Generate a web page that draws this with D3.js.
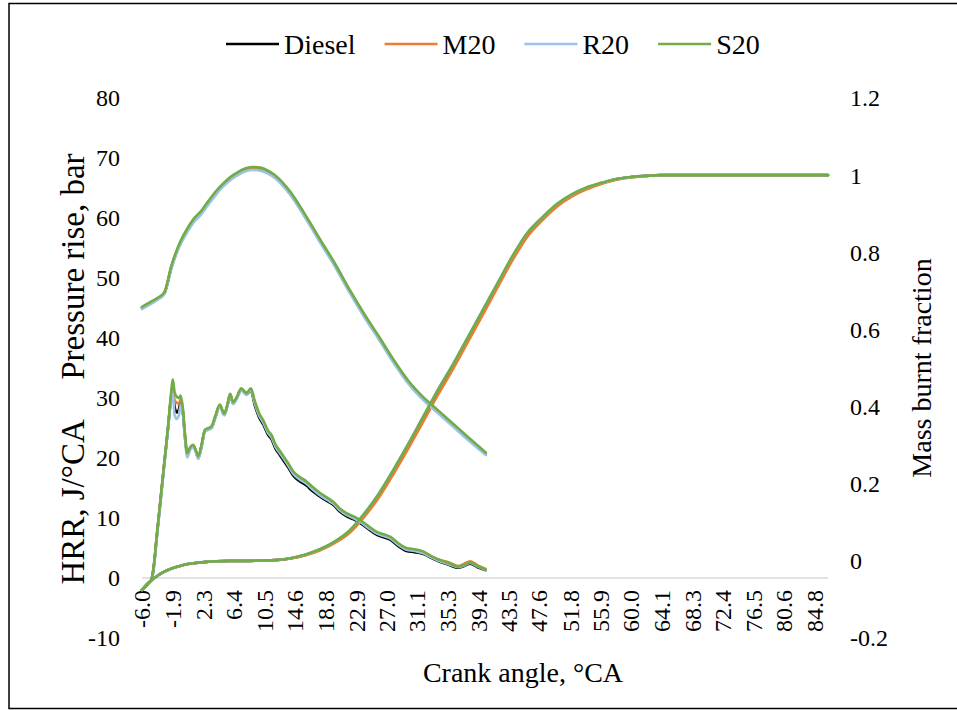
<!DOCTYPE html>
<html>
<head>
<meta charset="utf-8">
<script src="https://cdn.jsdelivr.net/npm/d3@7"></script>
<style>
  body { margin: 0; background: #fff; }
  svg text { font-family: 'Liberation Serif', 'Times New Roman', Tinos, 'DejaVu Serif', serif; fill: #000; }
</style>
</head>
<body>
<div id="chart"></div>
<script>
const fuels = ["Diesel", "M20", "R20", "S20"];
const fuelColors = ["#000000", "#ED7D31", "#9DC3E6", "#70AD47"];

const xTickLabels = ["-6.0", "-1.9", "2.3", "6.4", "10.5", "14.6", "18.8", "22.9", "27.0", "31.1", "35.3",
    "39.4", "43.5", "47.6", "51.8", "55.9", "60.0", "64.1", "68.3", "72.4", "76.5", "80.6", "84.8"];
const leftTicks = [80, 70, 60, 50, 40, 30, 20, 10, 0, -10];
const rightTicks = [1.2, 1, 0.8, 0.6, 0.4, 0.2, 0, -0.2];

// pressure rise, bar
const pressureAngle = [-6, -5, -4, -3, -2, -1, 0, 1, 2, 3, 4, 5, 6, 7, 8, 9, 10, 11, 12, 14, 16, 18, 20, 22, 24,
    26, 28, 30, 32, 34, 36, 38, 40.4];
const pressureDiesel = [45.0, 45.7, 46.5, 47.4, 51.9, 55.3, 57.6, 59.5, 60.9, 62.5, 64.1, 65.5, 66.6, 67.4, 68.0,
    68.2, 68.1, 67.6, 66.8, 64.1, 60.3, 56.2, 52.2, 47.8, 43.7, 39.9, 36.0, 32.5, 29.8, 27.6, 25.4, 23.2, 20.7];
const pressureM20 = [45.1, 45.8, 46.5, 47.5, 52.0, 55.4, 57.8, 59.7, 61.0, 62.7, 64.3, 65.6, 66.7, 67.5, 68.1,
    68.4, 68.3, 67.8, 67.0, 64.3, 60.5, 56.4, 52.4, 48.0, 43.9, 40.1, 36.2, 32.7, 30.0, 27.8, 25.6, 23.4, 20.8];
const pressureR20 = [44.8, 45.5, 46.3, 47.3, 51.7, 55.1, 57.4, 59.3, 60.6, 62.3, 63.9, 65.3, 66.4, 67.2, 67.8,
    68.0, 67.9, 67.4, 66.6, 63.9, 60.1, 56.0, 52.0, 47.6, 43.5, 39.7, 35.8, 32.3, 29.6, 27.4, 25.2, 23.0, 20.5];
const pressureS20 = [45.2, 45.9, 46.6, 47.6, 52.2, 55.6, 58.0, 59.9, 61.2, 62.9, 64.5, 65.8, 66.9, 67.7, 68.3,
    68.5, 68.4, 67.9, 67.1, 64.4, 60.6, 56.5, 52.5, 48.1, 44.0, 40.2, 36.3, 32.8, 30.1, 27.9, 25.7, 23.5, 20.9];

// heat release rate, J/°CA
const hrrAngle = [-6.0, -5.5, -5.0, -4.7, -4.4, -4.0, -3.5, -3.0, -2.5, -2.1,
    -1.85, -1.6, -1.3, -1.0, -0.8, -0.5, -0.2, 0.1, 0.5, 0.9,
    1.3, 1.6, 2.0, 2.5, 3.0, 3.4, 3.9, 4.5, 5.1, 5.5,
    5.9, 6.3, 6.8, 7.4, 8.1, 8.7, 9.2, 9.8, 10.4, 11.0,
    11.5, 12.0, 12.6, 13.1, 13.7, 14.4, 15.2, 16.2, 17.0, 18.0,
    19.0, 19.8, 20.7, 21.6, 22.5, 23.4, 24.5, 25.7, 26.6, 27.5,
    28.6, 29.7, 30.8, 32.0, 33.1, 34.2, 35.4, 36.7, 37.5, 38.3,
    39.3, 40.4];
const hrrDiesel = [-2.0, -1.4, -0.7, -0.2, 2.0, 7.0, 13.0, 19.0, 24.8, 29.8,
    31.4, 28.5, 27.6, 28.2, 29.2, 27.8, 23.6, 20.6, 21.6, 22.0,
    21.0, 20.1, 21.8, 24.5, 24.8, 25.1, 26.8, 28.7, 27.2, 28.6,
    30.5, 29.1, 30.0, 31.4, 30.6, 31.2, 28.9, 26.8, 25.5, 23.9,
    23.1, 21.6, 20.5, 19.6, 18.5, 17.1, 16.2, 15.4, 14.5, 13.6,
    12.8, 12.2, 11.1, 10.3, 9.8, 9.2, 8.2, 7.2, 6.8, 6.4,
    5.3, 4.5, 4.3, 4.0, 3.3, 2.7, 2.2, 1.7, 2.0, 2.4,
    1.8, 1.3];
const hrrM20 = [-2.0, -1.4, -0.7, -0.2, 2.0, 7.0, 13.0, 19.0, 24.9, 30.0,
    32.3, 29.6, 29.2, 29.0, 29.8, 28.2, 23.8, 20.7, 21.7, 22.1,
    21.0, 19.9, 21.7, 24.6, 24.9, 25.2, 26.9, 28.8, 27.3, 28.7,
    30.6, 29.2, 30.1, 31.5, 30.9, 31.4, 29.3, 27.2, 26.0, 24.3,
    23.6, 22.1, 21.0, 20.1, 19.0, 17.6, 16.8, 15.9, 15.0, 14.0,
    13.2, 12.5, 11.4, 10.6, 10.1, 9.5, 8.5, 7.5, 7.1, 6.7,
    5.7, 4.9, 4.7, 4.3, 3.6, 3.0, 2.6, 2.0, 2.4, 2.8,
    2.1, 1.5];
const hrrR20 = [-2.0, -1.4, -0.8, -0.4, 1.6, 6.6, 12.6, 18.6, 24.6, 29.5,
    31.0, 27.2, 26.5, 27.3, 28.8, 27.6, 23.2, 20.1, 21.3, 21.8,
    20.9, 19.9, 21.6, 24.4, 24.7, 25.0, 26.6, 28.6, 27.1, 28.5,
    30.4, 29.0, 29.9, 31.3, 30.5, 31.3, 29.2, 27.1, 25.8, 24.2,
    23.4, 21.9, 20.8, 19.9, 18.8, 17.4, 16.5, 15.7, 14.8, 13.8,
    13.0, 12.4, 11.3, 10.5, 10.0, 9.4, 8.4, 7.4, 7.0, 6.6,
    5.5, 4.7, 4.5, 4.1, 3.4, 2.8, 2.3, 1.8, 2.1, 2.5,
    1.9, 1.3];
const hrrS20 = [-2.0, -1.4, -0.7, -0.2, 2.0, 7.0, 13.0, 19.0, 25.0, 30.5,
    33.1, 31.0, 30.2, 30.0, 30.4, 28.5, 24.0, 20.8, 21.8, 22.2,
    21.2, 20.3, 22.0, 24.7, 25.0, 25.3, 27.0, 28.9, 27.4, 28.8,
    30.7, 29.3, 30.2, 31.6, 30.8, 31.6, 29.6, 27.5, 26.2, 24.6,
    23.8, 22.3, 21.2, 20.3, 19.2, 17.8, 16.9, 16.1, 15.2, 14.2,
    13.4, 12.7, 11.6, 10.8, 10.3, 9.7, 8.7, 7.7, 7.3, 6.9,
    5.8, 5.0, 4.8, 4.4, 3.6, 3.0, 2.5, 1.9, 2.2, 2.6,
    2.0, 1.4];

// mass burnt fraction (right axis)
const mbfAngle = [-6, -5, -4, -3, -2, -1, 0, 1, 2, 3, 4, 6, 8, 10, 12, 14, 16, 18, 20, 22, 24, 26, 28, 30, 32,
    34, 36, 38, 40, 42, 44, 46, 48, 50, 52, 54, 56, 58, 60, 62, 64, 66, 70, 75, 80, 86.6];
const mbfDiesel = [-0.075, -0.055, -0.040, -0.028, -0.020, -0.014, -0.009, -0.006, -0.004, -0.002, -0.001,
    0.0, 0.0, 0.001, 0.002, 0.006, 0.015, 0.029, 0.048, 0.075, 0.118, 0.170, 0.233, 0.300, 0.370,
    0.440, 0.505, 0.575, 0.645, 0.715, 0.785, 0.846, 0.887, 0.922, 0.948, 0.966, 0.979, 0.989, 0.995, 0.998,
    1.0, 1.0, 1.0, 1.0, 1.0, 1.0];
const mbfM20 = [-0.075, -0.055, -0.040, -0.028, -0.020, -0.014, -0.009, -0.006, -0.004, -0.002, -0.001,
    0.0, 0.0, 0.001, 0.002, 0.006, 0.014, 0.027, 0.046, 0.072, 0.114, 0.165, 0.227, 0.293, 0.362,
    0.432, 0.498, 0.568, 0.638, 0.709, 0.779, 0.840, 0.882, 0.918, 0.944, 0.963, 0.977, 0.988, 0.994, 0.998,
    1.0, 1.0, 1.0, 1.0, 1.0, 1.0];
const mbfR20 = [-0.075, -0.055, -0.040, -0.028, -0.020, -0.014, -0.009, -0.006, -0.004, -0.002, -0.001,
    0.0, 0.0, 0.001, 0.002, 0.007, 0.016, 0.030, 0.050, 0.079, 0.123, 0.176, 0.239, 0.306, 0.376,
    0.446, 0.511, 0.581, 0.651, 0.721, 0.790, 0.850, 0.890, 0.925, 0.950, 0.968, 0.980, 0.990, 0.995, 0.998,
    1.0, 1.0, 1.0, 1.0, 1.0, 1.0];
const mbfS20 = [-0.075, -0.055, -0.040, -0.028, -0.020, -0.014, -0.009, -0.006, -0.004, -0.002, -0.001,
    0.0, 0.0, 0.001, 0.002, 0.007, 0.016, 0.030, 0.050, 0.078, 0.122, 0.175, 0.238, 0.305, 0.375,
    0.445, 0.510, 0.580, 0.650, 0.720, 0.790, 0.850, 0.890, 0.925, 0.950, 0.968, 0.980, 0.990, 0.995, 0.998,
    1.0, 1.0, 1.0, 1.0, 1.0, 1.0];

const pressureSeries = [pressureDiesel, pressureM20, pressureR20, pressureS20];
const hrrSeries = [hrrDiesel, hrrM20, hrrR20, hrrS20];
const mbfSeries = [mbfDiesel, mbfM20, mbfR20, mbfS20];

const width = 957, height = 710;
const plot = { left: 142, right: 828, top: 98, bottom: 638 };
const fontFamily = "'Liberation Serif', 'Times New Roman', Tinos, 'DejaVu Serif', serif";

const svg = d3.select("#chart").append("svg")
    .attr("width", width)
    .attr("height", height)
    .attr("font-family", fontFamily);

// outer frame
svg.append("rect")
    .attr("x", 9).attr("y", 3.5)
    .attr("width", 960).attr("height", 705)
    .attr("fill", "none")
    .attr("stroke", "#000")
    .attr("stroke-width", 1.5);

const x = d3.scaleLinear().domain([-6.0, 86.6]).range([plot.left, plot.right]);
const yLeft = d3.scaleLinear().domain([-10, 80]).range([plot.bottom, plot.top]);
const yRight = d3.scaleLinear().domain([-0.2, 1.2]).range([plot.bottom, plot.top]);

// horizontal axis line at zero
svg.append("line")
    .attr("x1", plot.left).attr("x2", plot.right)
    .attr("y1", yLeft(0)).attr("y2", yLeft(0))
    .attr("stroke", "#d9d9d9")
    .attr("stroke-width", 1.5);

// x tick labels (rotated)
svg.append("g").selectAll("text")
    .data(xTickLabels)
    .join("text")
    .attr("transform", d => `translate(${x(+d)},${yLeft(0) + 12}) rotate(-90)`)
    .attr("text-anchor", "end")
    .attr("dy", "0.35em")
    .style("font-family", fontFamily)
    .style("font-size", "24px")
    .text(d => d);

// left tick labels
svg.append("g").selectAll("text")
    .data(leftTicks)
    .join("text")
    .attr("x", 120)
    .attr("y", d => yLeft(d))
    .attr("dy", "0.35em")
    .attr("text-anchor", "end")
    .style("font-family", fontFamily)
    .style("font-size", "24px")
    .text(d => d);

// right tick labels
svg.append("g").selectAll("text")
    .data(rightTicks)
    .join("text")
    .attr("x", 850)
    .attr("y", d => yRight(d))
    .attr("dy", "0.35em")
    .attr("text-anchor", "start")
    .style("font-family", fontFamily)
    .style("font-size", "24px")
    .text(d => d);

// axis titles
svg.append("text")
    .attr("transform", `translate(72,369) rotate(-90)`)
    .attr("text-anchor", "middle")
    .attr("dy", "0.35em")
    .attr("xml:space", "preserve")
    .style("white-space", "pre")
    .style("font-family", fontFamily)
    .style("font-size", "33px")
    .text("HRR, J/°CA     Pressure rise, bar");

svg.append("text")
    .attr("transform", `translate(921,${(plot.top + plot.bottom) / 2}) rotate(-90)`)
    .attr("text-anchor", "middle")
    .attr("dy", "0.35em")
    .style("font-family", fontFamily)
    .style("font-size", "28px")
    .text("Mass burnt fraction");

svg.append("text")
    .attr("x", 523)
    .attr("y", 672)
    .attr("text-anchor", "middle")
    .attr("dy", "0.35em")
    .style("font-family", fontFamily)
    .style("font-size", "28px")
    .text("Crank angle, °CA");

// lines
const pressureLine = d3.line()
    .x((d, i) => x(pressureAngle[i]))
    .y(d => yLeft(d))
    .curve(d3.curveMonotoneX);
const hrrLine = d3.line()
    .x((d, i) => x(hrrAngle[i]))
    .y(d => yLeft(d))
    .curve(d3.curveMonotoneX);
const mbfLine = d3.line()
    .x((d, i) => x(mbfAngle[i]))
    .y(d => yRight(d))
    .curve(d3.curveMonotoneX);

const lines = svg.append("g")
    .attr("fill", "none")
    .attr("stroke-width", 2.6)
    .attr("stroke-linejoin", "round")
    .attr("stroke-linecap", "round");

fuels.forEach(function(fuel, i) {
    let g = lines.append("g").attr("stroke", fuelColors[i]);
    g.append("path").attr("d", pressureLine(pressureSeries[i]));
    g.append("path").attr("d", hrrLine(hrrSeries[i]));
    g.append("path").attr("d", mbfLine(mbfSeries[i]));
});

// legend
const legend = svg.append("g").attr("transform", "translate(226,44)");
let cursor = 0;
fuels.forEach(function(fuel, i) {
    let item = legend.append("g").attr("transform", `translate(${cursor},0)`);
    item.append("line")
        .attr("x1", 0).attr("x2", 53)
        .attr("y1", 0).attr("y2", 0)
        .attr("stroke", fuelColors[i])
        .attr("stroke-width", 2.6);
    let t = item.append("text")
        .attr("x", 58)
        .attr("dy", "0.35em")
        .style("font-family", fontFamily)
        .style("font-size", "28px")
        .text(fuel);
    cursor += 58 + t.node().getComputedTextLength() + 29;
});
</script>
</body>
</html>
